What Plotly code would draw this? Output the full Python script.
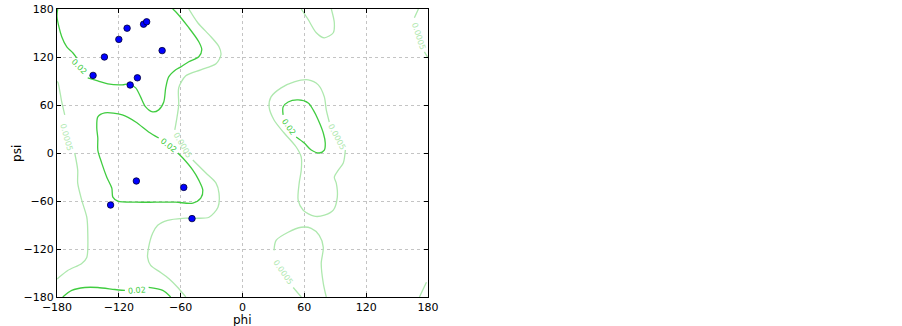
import plotly.graph_objects as go

# ---- data points (phi, psi) ----
phi_pts = [-145, -134, -120, -112, -96, -93, -78, -102, -109, -103, -128, -57, -49]
psi_pts = [97, 120, 142, 156, 161, 164, 128, 94, 85, -35, -65, -43, -82]

# ---- contour level 0.02 segments (phi, psi) ----
c02_beta_top = [(-179.3, 180), (-180, 170.4), (-175.4, 145.3), (-170.5, 132.8), (-164.7, 125.3), (-160.9, 119)]
c02_beta_main = [(-150.2, 93.9), (-140.4, 90.2), (-130.7, 86.4), (-116.6, 85.2), (-110.7, 86.4), (-103.6, 81.4),
                 (-98.9, 70.1), (-94, 57.6), (-87.2, 51.4), (-81.3, 53.9), (-76.4, 63.8), (-74.5, 81.4),
                 (-71.6, 95.2), (-64.8, 104), (-59.9, 107.7), (-52.1, 114), (-42.4, 120.3), (-39.5, 129),
                 (-42.4, 139), (-52.1, 156.6), (-64.8, 176.6), (-67.7, 180)]
c02_bottom_a = [(-174.4, -180), (-165.7, -171.8), (-153, -168.1), (-140.4, -168.1), (-123.8, -170.6), (-114.1, -171.8)]
c02_bottom_b = [(-91.1, -168.1), (-77.4, -171.8), (-69.7, -180)]
c02_alpha = [(-81.3, 18.7), (-91.1, 26.3), (-103.6, 38.8), (-116.6, 47.6), (-133.6, 50.1), (-140.4, 45.1),
             (-141.4, 31.3), (-140.4, 18.7), (-140.4, 3.7), (-136.6, -12.6), (-131.7, -30.2), (-126.8, -44),
             (-125.8, -55.2), (-121, -60.2), (-103.6, -61.5), (-84.3, -61.5), (-64.8, -61.5), (-48.2, -62.7),
             (-40.5, -56.5), (-38.5, -46.5), (-42.4, -33.9), (-48.2, -21.4), (-57.9, -6.3), (-62.8, 0)]
c02_left = [(52.1, 20), (59.9, 12.5), (66.7, 3.7), (74.5, 0), (79.4, 3.7), (80.3, 12.5), (78.4, 25), (73.5, 41.3),
            (68.6, 53.9), (63.8, 62.6), (54, 66.3), (44.3, 63.8), (39.4, 57.6), (39.4, 47.6)]

# ---- contour level 0.0005 segments (phi, psi) ----
c0005_left_a = [(-180, 88.9), (-179.3, 88.9), (-175.4, 63.8), (-172.5, 47.6)]
c0005_left_b = [(-162.8, 0), (-159.9, -21.4), (-159.9, -37.7), (-156, -59), (-151.1, -80.3), (-150.2, -96.6),
                (-151.1, -130.5), (-156, -138), (-169.6, -146.8), (-179.3, -156.8), (-180, -157.5)]
c0005_mid_a = [(-52.1, 180), (-43.4, 162.8), (-30.6, 145.3), (-22.8, 132.8), (-20.9, 122.8), (-25.7, 111.5),
               (-40.5, 104), (-55, 96.5), (-61.9, 81.4), (-61.9, 60.1), (-63.8, 42.6), (-65.7, 28.8)]
c0005_mid_b = [(-48.2, -8.8), (-35.5, -25.1), (-25.7, -37.7), (-22.8, -50.2), (-23.8, -67.8), (-32.5, -80.3),
               (-45.3, -81.6), (-57.9, -81.6), (-72.6, -84.1), (-82.3, -90.3), (-87.2, -100.4), (-91.1, -117.9),
               (-92.1, -130.5), (-89.1, -140.5), (-79.4, -149.3), (-71.6, -156.8), (-62.8, -168.1), (-55, -180)]
c0005_lh = [(84.2, 38.8), (81.3, 53.9), (79.4, 70.1), (73.5, 85.2), (63.8, 91.4), (50.2, 88.9), (37.5, 81.4),
            (27.7, 70.1), (25.8, 57.6), (30.6, 41.3), (40.4, 25), (52.1, 7.5), (57, -5.1), (57, -21.4),
            (55, -37.7), (54, -59), (58.9, -71.5), (69.6, -79), (79.4, -77.8), (88.1, -71.5), (92, -55.2),
            (91, -37.7), (89.1, -30.2), (93, -21.4), (97.8, -12.6), (99.8, 3.7)]
c0005_top = [(57, 180), (63.8, 166.6), (71.6, 150.3), (79.4, 144), (88.1, 150.3), (89.1, 162.8), (86.2, 180)]
c0005_bot_a = [(57, -180), (49.2, -168.1)]
c0005_bot_b = [(30.6, -121.7), (32.6, -109.1), (44.3, -99.1), (57, -92.8), (66.7, -94.1), (74.5, -102.9),
               (78.4, -117.9), (76.4, -138), (78.4, -163), (81.3, -180)]
c0005_right_a = [(170.7, 180), (166.8, 169)]
c0005_right_b = [(176.5, 126.5), (180, 119)]
c0005_right_c = [(178.5, -161.6), (171.7, -180)]

# ---- contour labels: (phi, psi, text, angle) ----
labels_02 = [(-159, 107.7, "0.02", 45), (-71.6, 10, "0.02", 38), (45.3, 32.5, "0.02", 55), (-102.4, -171.8, "0.02", -5)]
labels_0005 = [(-170.5, 20, "0.0005", 75), (-57.9, 10, "0.0005", 60), (92, 20, "0.0005", 62),
               (39.4, -149.3, "0.0005", 55), (170.7, 145.3, "0.0005", 72)]

DARK = "#40cc40"
LIGHT = "#aee8ae"

fig = go.Figure()


def add_segments(segs, color):
    for seg in segs:
        fig.add_trace(go.Scatter(
            x=[p[0] for p in seg], y=[p[1] for p in seg], mode="lines",
            line=dict(color=color, width=1.3, shape="spline", smoothing=0.8),
            hoverinfo="skip", showlegend=False))


add_segments([c0005_left_a, c0005_left_b, c0005_mid_a, c0005_mid_b, c0005_lh, c0005_top,
              c0005_bot_a, c0005_bot_b, c0005_right_a, c0005_right_b, c0005_right_c], LIGHT)
add_segments([c02_beta_top, c02_beta_main, c02_bottom_a, c02_bottom_b, c02_alpha, c02_left], DARK)

for (x, y, t, a) in labels_02:
    fig.add_annotation(x=x, y=y, text=t, showarrow=False, textangle=a,
                       font=dict(family="DejaVu Sans", size=8, color=DARK))
for (x, y, t, a) in labels_0005:
    fig.add_annotation(x=x, y=y, text=t, showarrow=False, textangle=a,
                       font=dict(family="DejaVu Sans", size=8, color=LIGHT))

fig.add_trace(go.Scatter(
    x=phi_pts, y=psi_pts, mode="markers",
    marker=dict(color="#0000ff", size=6.5, line=dict(color="#000033", width=0.8)),
    showlegend=False, hoverinfo="skip"))

ticks = [-180, -120, -60, 0, 60, 120, 180]
ticktext = [str(t).replace("-", "\u2212") for t in ticks]

axis_common = dict(
    range=[-180, 180], tickvals=ticks, ticktext=ticktext,
    showline=True, linecolor="black", linewidth=1, mirror="ticks",
    ticks="inside", ticklen=4, tickcolor="black",
    showgrid=True, gridcolor="#c4c4c4", griddash="dot", gridwidth=1,
    zeroline=False, automargin=False,
    tickfont=dict(family="DejaVu Sans", size=11, color="black"),
)

fig.update_xaxes(**axis_common)
fig.update_yaxes(**axis_common)

fig.add_annotation(xref="paper", yref="paper", x=0.5, y=-0.079, text="phi", showarrow=False,
                   xanchor="center", yanchor="middle",
                   font=dict(family="DejaVu Sans", size=12, color="black"))
fig.add_annotation(xref="paper", yref="paper", x=-0.108, y=0.5, text="psi", showarrow=False,
                   textangle=-90, xanchor="center", yanchor="middle",
                   font=dict(family="DejaVu Sans", size=12, color="black"))

fig.update_layout(
    width=902, height=326,
    margin=dict(l=57, r=474, t=9, b=29, autoexpand=False),
    paper_bgcolor="white", plot_bgcolor="white",
)

# remove the default page margin so the figure fills the window exactly
fig.write_html("out.html", config={"displayModeBar": False},
               post_script="document.body.style.margin='0';")
